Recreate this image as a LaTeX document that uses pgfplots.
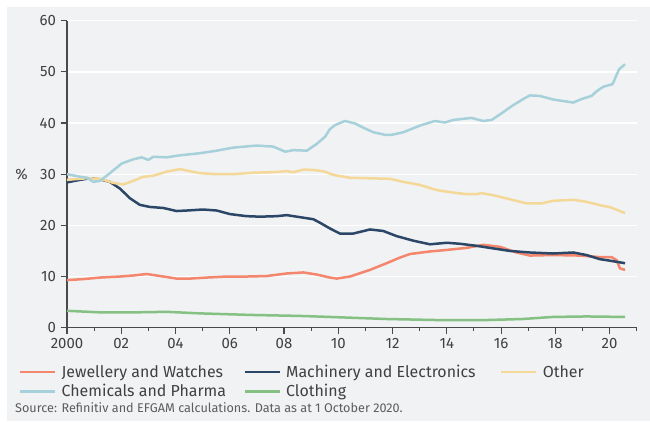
\documentclass[border=0pt]{standalone}
\usepackage{fontspec}
\setmainfont{Fira Sans}
\usepackage{pgfplots}
\pgfplotsset{compat=1.18}

\definecolor{bggray}{HTML}{F1F2F4}
\definecolor{axisgray}{HTML}{4A4A4A}
\definecolor{txtgray}{HTML}{404040}
\definecolor{jewel}{HTML}{F3866C}
\definecolor{machine}{HTML}{2C4668}
\definecolor{other}{HTML}{F4D898}
\definecolor{chem}{HTML}{A6D0DA}
\definecolor{cloth}{HTML}{85C183}

\begin{document}
\begin{tikzpicture}[x=1bp,y=1bp]
\path[use as bounding box] (0,0) rectangle (650,421);
\fill[bggray] (7,0) rectangle (650,414);

\begin{axis}[
  at={(67bp,93.3bp)}, anchor=south west,
  scale only axis, width=569.7bp, height=307bp,
  xmin=2000, xmax=2021, ymin=0, ymax=60,
  axis x line*=bottom, axis y line*=left,
  axis line style={-, draw=axisgray, line width=1.4bp},
  xtick={2000,2002,...,2020},
  xticklabels={2000,02,04,06,08,10,12,14,16,18,20},
  minor xtick={2001,2003,...,2021},
  ytick={0,10,...,60},
  tick align=outside,
  major tick length=6.5bp, minor tick length=3bp,
  tick style={draw=axisgray, line width=1.1bp},
  ymajorgrids,
  major grid style={draw=white, line width=1.3bp},
  /pgf/number format/assume math mode=true,
  ticklabel style={font=\fontsize{15}{18}\selectfont, text=txtgray},
  yticklabel style={xshift=-1bp},
  xticklabel style={yshift=-1bp},
  clip=false,
  legend columns=3,
  legend cell align=left,
  legend style={
    at={(axis description cs:-0.0843,-0.118)}, anchor=north west,
    draw=none, fill=none, inner sep=0pt, outer sep=0pt,
    font=\fontsize{16}{19}\selectfont, text=txtgray,
    row sep=3.5bp,
    /tikz/every odd column/.append style={column sep=4bp},
    /tikz/every even column/.append style={column sep=0bp},
    nodes={inner sep=1bp},
  },
  legend image code/.code={\draw[#1, line width=2.6bp] (0bp,0bp) -- (35bp,0bp);},
  every axis plot/.append style={line width=2.5bp, line join=round},
]

% Jewellery and Watches
\addplot[jewel] coordinates {
(2000.00,9.3)(2000.60,9.5)(2001.22,9.8)(2001.95,10.0)(2002.44,10.2)(2002.94,10.5)
(2003.43,10.1)(2004.04,9.6)(2004.53,9.6)(2005.15,9.8)(2005.89,10.0)(2006.62,10.0)
(2007.36,10.1)(2008.10,10.6)(2008.71,10.8)(2009.20,10.4)(2009.69,9.8)(2009.94,9.6)
(2010.43,10.0)(2011.17,11.3)(2011.78,12.6)(2012.27,13.7)(2012.64,14.4)(2013.38,14.9)
(2014.00,15.2)(2014.73,15.6)(2015.34,16.2)(2015.96,15.8)(2016.57,14.7)(2017.06,14.1)
(2017.92,14.2)(2018.90,14.1)(2019.64,13.8)(2020.07,13.8)(2020.26,13.2)(2020.38,11.6)
(2020.57,11.3)
};
\addlegendentry{\makebox[181bp][l]{Jewellery and Watches}}

% Machinery and Electronics
\addplot[machine] coordinates {
(2000.00,28.4)(2000.48,28.9)(2000.85,29.2)(2001.22,29.0)(2001.58,28.5)(2001.95,27.2)
(2002.32,25.3)(2002.69,24.0)(2003.06,23.6)(2003.55,23.4)(2004.04,22.8)(2004.41,22.9)
(2005.02,23.1)(2005.52,22.9)(2006.01,22.2)(2006.62,21.8)(2007.11,21.7)(2007.73,21.8)
(2008.10,22.0)(2008.59,21.6)(2009.08,21.2)(2009.33,20.5)(2009.69,19.4)(2010.06,18.4)
(2010.55,18.4)(2011.17,19.2)(2011.66,18.9)(2012.15,17.9)(2012.77,17.0)(2013.38,16.3)
(2014.00,16.6)(2014.49,16.4)(2015.10,16.0)(2015.71,15.5)(2016.33,15.0)(2017.06,14.7)
(2017.92,14.5)(2018.66,14.7)(2019.15,14.2)(2019.64,13.4)(2020.01,13.1)(2020.57,12.6)
};
\addlegendentry{\makebox[213bp][l]{Machinery and Electronics}}

% Other
\addplot[other] coordinates {
(2000.00,28.9)(2000.72,29.2)(2001.22,29.1)(2001.71,28.3)(2002.07,28.0)(2002.44,28.7)
(2002.81,29.5)(2003.18,29.7)(2003.67,30.5)(2004.17,31.0)(2004.42,30.7)(2004.90,30.2)
(2005.52,30.0)(2006.13,30.0)(2006.87,30.3)(2007.60,30.4)(2008.10,30.6)(2008.34,30.4)
(2008.72,30.9)(2009.14,30.8)(2009.51,30.5)(2009.69,30.1)(2009.88,29.8)(2010.43,29.3)
(2011.17,29.2)(2011.90,29.1)(2012.40,28.5)(2013.01,27.9)(2013.63,26.9)(2014.24,26.4)
(2014.73,26.1)(2015.10,26.1)(2015.28,26.3)(2015.71,25.9)(2016.33,25.1)(2016.94,24.3)
(2017.50,24.3)(2017.92,24.8)(2018.66,25.0)(2019.15,24.6)(2019.77,23.8)(2020.00,23.6)
(2020.57,22.4)
};
\addlegendentry{Other}

% Chemicals and Pharma
\addplot[chem] coordinates {
(2000.00,30.0)(2000.48,29.5)(2000.75,29.3)(2000.97,28.5)(2001.22,28.7)(2001.58,30.2)
(2002.02,32.1)(2002.44,32.9)(2002.75,33.3)(2003.00,32.8)(2003.18,33.4)(2003.67,33.3)
(2004.17,33.7)(2004.90,34.1)(2005.52,34.6)(2006.13,35.2)(2006.99,35.6)(2007.60,35.4)
(2008.04,34.4)(2008.34,34.7)(2008.84,34.6)(2009.20,35.9)(2009.51,37.3)(2009.69,38.8)
(2009.88,39.6)(2010.25,40.4)(2010.62,39.9)(2010.92,39.1)(2011.29,38.2)(2011.72,37.7)
(2011.97,37.7)(2012.40,38.2)(2013.01,39.5)(2013.56,40.4)(2013.93,40.1)(2014.24,40.6)
(2014.91,41.0)(2015.34,40.4)(2015.65,40.6)(2016.02,41.9)(2016.39,43.3)(2016.82,44.7)
(2017.06,45.4)(2017.43,45.3)(2017.92,44.6)(2018.66,44.0)(2018.97,44.7)(2019.34,45.3)
(2019.52,46.2)(2019.77,47.1)(2020.11,47.6)(2020.35,50.5)(2020.57,51.5)
};
\addlegendentry{Chemicals and Pharma}

% Clothing
\addplot[cloth] coordinates {
(2000.00,3.3)(2001.22,3.0)(2002.50,3.0)(2003.67,3.1)(2004.90,2.8)(2006.75,2.5)
(2008.60,2.3)(2009.69,2.1)(2011.78,1.7)(2013.60,1.5)(2015.50,1.5)(2016.80,1.7)
(2017.90,2.1)(2019.15,2.2)(2020.57,2.1)
};
\addlegendentry{Clothing}
\end{axis}

\node[text=txtgray, font=\fontsize{15}{18}\selectfont] at (21.5,247) {\%};
\node[anchor=base west, inner sep=0pt, text=txtgray!85, font=\fontsize{12.7}{14}\selectfont]
  at (15,8.7) {Source: Refinitiv and EFGAM calculations. Data as at 1 October 2020.};
\end{tikzpicture}
\end{document}
